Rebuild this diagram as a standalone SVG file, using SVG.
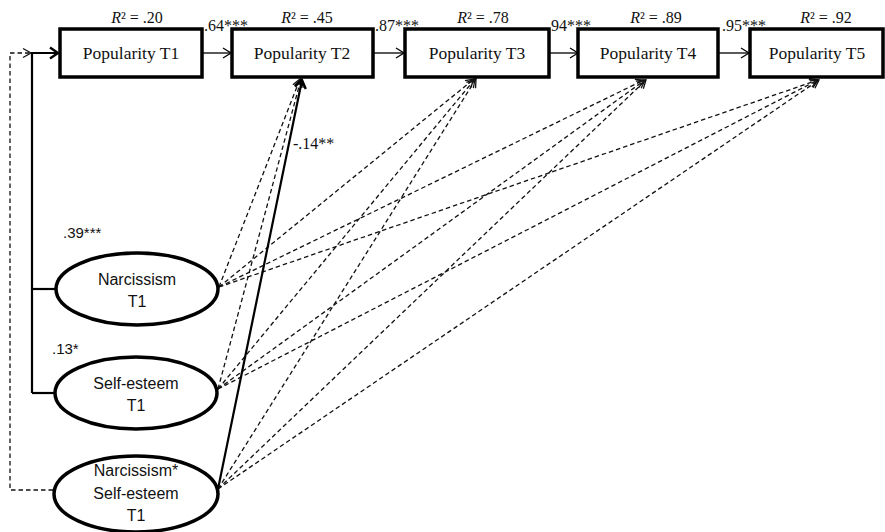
<svg xmlns="http://www.w3.org/2000/svg" width="885" height="532" viewBox="0 0 885 532">
<style>
.box{fill:#fff;stroke:#000;stroke-width:3.5}
.ell{fill:#fff;stroke:#000;stroke-width:3.5}
.lbl{font-family:"Liberation Serif",serif;font-size:17.5px;fill:#111;text-anchor:middle}
.r2{font-family:"Liberation Serif",serif;font-size:16px;fill:#111;text-anchor:middle}
.coef{font-family:"Liberation Serif",serif;font-size:16px;fill:#111}
.sans{font-family:"Liberation Sans",sans-serif;font-size:16px;fill:#111;text-anchor:middle}
.sanscoef{font-family:"Liberation Sans",sans-serif;font-size:15px;fill:#111}
.solid{fill:none;stroke:#000;stroke-width:1.3}
.thick{fill:none;stroke:#000;stroke-width:2.2}
.dash{fill:none;stroke:#111;stroke-width:1.3;stroke-dasharray:4.5 3}
</style>
<defs>
<marker id="open" markerWidth="12" markerHeight="12" refX="10" refY="6" orient="auto" markerUnits="userSpaceOnUse">
<path d="M2,1 L10,6 L2,11" fill="none" stroke="#000" stroke-width="1.3"/>
</marker>
<marker id="openThick" markerWidth="14" markerHeight="14" refX="11" refY="7" orient="auto" markerUnits="userSpaceOnUse">
<path d="M3,1.5 L11,7 L3,12.5" fill="none" stroke="#000" stroke-width="2.4"/>
</marker>
<marker id="dashHead" markerWidth="12" markerHeight="12" refX="10" refY="6" orient="auto" markerUnits="userSpaceOnUse">
<path d="M2,1.5 L10,6 L2,10.5" fill="none" stroke="#111" stroke-width="1.3"/>
</marker>
</defs>

<g id="connectors">
<path class="thick" d="M32,393 L32,53 L58,53" marker-end="url(#openThick)"/>
<path class="thick" d="M32,289 L55,289"/>
<path class="thick" d="M32,393 L55,393"/>
<path class="dash" d="M53,490 L10,490 L10,53 L31,53" marker-end="url(#dashHead)"/>
<line class="solid" x1="203" y1="53" x2="231" y2="53" marker-end="url(#open)"/>
<line class="solid" x1="374" y1="53" x2="404" y2="53" marker-end="url(#open)"/>
<line class="solid" x1="550" y1="53" x2="578" y2="53" marker-end="url(#open)"/>
<line class="solid" x1="719" y1="53" x2="749" y2="53" marker-end="url(#open)"/>
<line class="dash" x1="219" y1="287" x2="300" y2="79" marker-end="url(#dashHead)"/>
<line class="dash" x1="219" y1="287" x2="474" y2="79" marker-end="url(#dashHead)"/>
<line class="dash" x1="219" y1="287" x2="644" y2="80" marker-end="url(#dashHead)"/>
<line class="dash" x1="219" y1="287" x2="818" y2="80" marker-end="url(#dashHead)"/>
<line class="dash" x1="218" y1="389" x2="301" y2="79" marker-end="url(#dashHead)"/>
<line class="dash" x1="218" y1="389" x2="475" y2="79" marker-end="url(#dashHead)"/>
<line class="dash" x1="218" y1="389" x2="645" y2="80" marker-end="url(#dashHead)"/>
<line class="dash" x1="218" y1="389" x2="818" y2="80" marker-end="url(#dashHead)"/>
<line class="thick" x1="218" y1="489" x2="302" y2="80" marker-end="url(#openThick)"/>
<line class="dash" x1="218" y1="489" x2="476" y2="79" marker-end="url(#dashHead)"/>
<line class="dash" x1="218" y1="489" x2="646" y2="80" marker-end="url(#dashHead)"/>
<line class="dash" x1="218" y1="489" x2="819" y2="80" marker-end="url(#dashHead)"/>
</g>

<g id="pop1">
<rect class="box" x="60" y="29" width="142" height="48"/>
<text class="lbl" x="131" y="59">Popularity T1</text>
<text class="r2" x="137" y="23"><tspan font-style="italic">R</tspan>² = .20</text>
</g>
<g id="pop2">
<rect class="box" x="232" y="29" width="141" height="48"/>
<text class="lbl" x="302" y="59">Popularity T2</text>
<text class="r2" x="307" y="23"><tspan font-style="italic">R</tspan>² = .45</text>
</g>
<g id="pop3">
<rect class="box" x="405" y="29" width="144" height="48"/>
<text class="lbl" x="477" y="59">Popularity T3</text>
<text class="r2" x="483" y="23"><tspan font-style="italic">R</tspan>² = .78</text>
</g>
<g id="pop4">
<rect class="box" x="578" y="29" width="140" height="48"/>
<text class="lbl" x="648" y="59">Popularity T4</text>
<text class="r2" x="656" y="23"><tspan font-style="italic">R</tspan>² = .89</text>
</g>
<g id="pop5">
<rect class="box" x="750" y="29" width="133" height="48"/>
<text class="lbl" x="817" y="59">Popularity T5</text>
<text class="r2" x="826" y="23"><tspan font-style="italic">R</tspan>² = .92</text>
</g>

<g id="coefs">
<text class="coef" x="204" y="31">.64***</text>
<text class="coef" x="375" y="31">.87***</text>
<text class="coef" x="547" y="31">.94***</text>
<text class="coef" x="722" y="31">.95***</text>
<text class="coef" x="293" y="149">-.14**</text>
<text class="sanscoef" x="63" y="238">.39***</text>
<text class="sanscoef" x="52" y="354">.13*</text>
</g>

<g id="narcissism">
<ellipse class="ell" cx="137" cy="289" rx="81" ry="36"/>
<text class="sans" x="137" y="285">Narcissism</text>
<text class="sans" x="137" y="307">T1</text>
</g>
<g id="selfesteem">
<ellipse class="ell" cx="136" cy="393" rx="81" ry="36"/>
<text class="sans" x="136" y="389">Self-esteem</text>
<text class="sans" x="136" y="411">T1</text>
</g>
<g id="interaction">
<ellipse class="ell" cx="136" cy="494" rx="82" ry="38"/>
<text class="sans" x="136" y="476">Narcissism*</text>
<text class="sans" x="136" y="499">Self-esteem</text>
<text class="sans" x="136" y="521">T1</text>
</g>
</svg>
